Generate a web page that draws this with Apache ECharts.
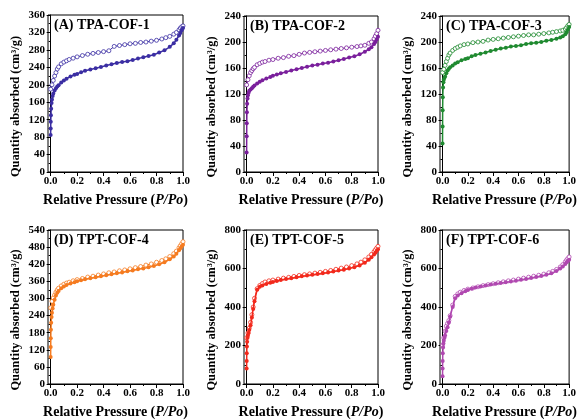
<!DOCTYPE html>
<html><head><meta charset="utf-8">
<script src="https://cdn.jsdelivr.net/npm/echarts@6/dist/echarts.min.js"></script>
<style>html,body{margin:0;padding:0;background:#fff}#c{width:579px;height:420px}</style>
</head><body><div id="c"></div>
<script>
// Pressure grids
const adsP = [0, 0.0005, 0.001, 0.002, 0.004, 0.007, 0.01, 0.015, 0.02, 0.03, 0.04, 0.05, 0.06, 0.08, 0.1, 0.12, 0.15, 0.18, 0.2, 0.23, 0.26, 0.3, 0.34, 0.38, 0.42, 0.46, 0.5, 0.54, 0.58, 0.62, 0.66, 0.7, 0.74, 0.78, 0.82, 0.86, 0.9, 0.93, 0.95, 0.97, 0.98, 0.99, 1.0];
const desP = [0.0, 0.01, 0.02, 0.03, 0.04, 0.05, 0.06, 0.08, 0.1, 0.12, 0.14, 0.17, 0.2, 0.24, 0.28, 0.32, 0.36, 0.4, 0.44, 0.48, 0.52, 0.56, 0.6, 0.64, 0.68, 0.72, 0.76, 0.8, 0.84, 0.87, 0.9, 0.93, 0.95, 0.97, 0.98, 0.99, 1.0];

const adsA = [85,100,115,130,145,158,166,174,180,187,192,196,199,205,210,214,219,223,225,229,232,235,238,241,244,247,250,252,254,257,260,263,266,269,274,279,287,295,303,313,319,325,330];
const desA = [190,200,210,220,228,236,241,248,252,255,258,261,264,267,270,272,274,276,278,288,290,292,294,295,297,298,300,302,305,308,311,316,320,326,330,333,335];
const adsB = [30,55,75,92,105,113,118,122,125,127,129,131,133,136,139,141,144,146,148,150,152,154,156,158,160,162,164,165,167,168,170,172,174,176,178,181,185,189,192,197,200,204,208];
const desB = [134,142,148,153,156,159,161,165,167,169,170,172,173,175,176,178,179,181,183,184,185,186,187,188,189,190,191,192,193,194,195,198,200,205,209,213,218];
const adsC = [44,70,95,115,130,138,142,145,147,152,156,159,161,164,167,169,172,174,175,178,180,182,184,186,188,190,191,193,194,195,197,198,199,200,202,203,205,207,209,212,215,219,223];
const desC = [153,158,164,170,175,180,183,187,190,192,194,196,197,199,200,201,203,204,205,206,207,208,209,210,211,211,212,213,214,215,216,217,218,220,222,225,227];
const adsD = [95,130,160,190,215,235,250,265,278,295,310,320,326,336,342,347,352,357,360,364,367,371,374,378,381,385,388,391,395,398,402,405,409,414,420,427,437,447,457,469,476,482,488];
const desD = [267,290,302,312,322,330,336,344,350,354,357,362,366,370,375,378,382,386,390,393,397,400,404,408,412,417,421,427,433,439,447,457,466,478,485,492,499];
const adsE = [80,120,160,195,220,240,252,265,280,305,345,390,430,490,505,512,520,526,530,535,540,545,550,555,560,564,568,571,575,579,584,589,594,600,607,616,630,645,658,673,682,691,700];
const desE = [240,265,290,320,360,400,445,495,512,522,530,536,540,545,550,554,559,564,568,572,576,580,585,590,596,602,608,615,624,633,645,660,673,688,697,706,715];
const adsF = [40,80,120,160,190,210,225,240,252,275,295,320,350,400,445,460,472,482,488,495,501,507,512,517,521,525,529,533,537,541,546,551,556,561,567,575,587,600,611,624,632,639,645];
const desF = [200,240,275,300,315,330,355,410,455,468,477,486,493,499,505,511,516,521,526,531,536,540,545,550,555,560,565,571,578,585,595,608,620,635,644,652,660];

const titles = ['(A) TPA-COF-1','(B) TPA-COF-2','(C) TPA-COF-3','(D) TPT-COF-4','(E) TPT-COF-5','(F) TPT-COF-6'];
const yMax = [360, 240, 240, 540, 800, 800];
const yStep = [40, 40, 40, 60, 200, 200];
const xMajor = [0, 0.2, 0.4, 0.6, 0.8, 1.0];
const xMinor = [0.1, 0.3, 0.5, 0.7, 0.9];
const colors = ['#3b2ea3','#7a1f9c','#1f8a30','#f57b20','#f2291c','#b048b0'];
const adsSets = [adsA, adsB, adsC, adsD, adsE, adsF];
const desSets = [desA, desB, desC, desD, desE, desF];

const layout = [
  {left:48, top:15, width:135, height:157},
  {left:244, top:16, width:134, height:156},
  {left:440, top:16, width:133, height:156},
  {left:48, top:230, width:135, height:155},
  {left:244, top:230, width:134, height:156},
  {left:440, top:230, width:133, height:156}
];

const FONT = '"Liberation Serif","Times New Roman",serif';
const grid = [], xAxis = [], yAxis = [], series = [], title = [];
const zip = (xs, ys) => xs.map((x, i) => [x, ys[i]]);

layout.forEach((g, i) => {
  grid.push(Object.assign({show:true, borderColor:'#000', borderWidth:1, backgroundColor:'transparent'}, g));
  xAxis.push({
    gridIndex:i, type:'value', min:-0.02, max:1.0,
    axisLine:{show:true, onZero:false, lineStyle:{color:'#000', width:1}},
    axisTick:{show:true, inside:false, length:4, customValues:xMajor, lineStyle:{color:'#000'}},
    axisLabel:{show:true, customValues:xMajor, formatter:v=>v.toFixed(1), color:'#000', fontFamily:FONT, fontWeight:'bold', fontSize:11, margin:4},
    splitLine:{show:false},
    name:'Relative Pressure ({i|P/Po})', nameLocation:'middle', nameGap:21,
    nameTextStyle:{color:'#000', fontFamily:FONT, fontWeight:'bold', fontSize:14,
      rich:{i:{fontStyle:'italic', fontWeight:'bold', fontFamily:FONT, fontSize:14, color:'#000'}}}
  });
  xAxis.push({
    gridIndex:i, type:'value', min:-0.02, max:1.0, position:'bottom',
    axisLine:{show:false},
    axisTick:{show:true, length:2, customValues:xMinor, lineStyle:{color:'#000'}},
    axisLabel:{show:false}, splitLine:{show:false}
  });
  yAxis.push({
    gridIndex:i, type:'value', min:0, max:yMax[i], interval:yStep[i],
    axisLine:{show:true, lineStyle:{color:'#000', width:1}},
    axisTick:{show:true, length:4, lineStyle:{color:'#000'}},
    minorTick:{show:true, splitNumber:2, length:2, lineStyle:{color:'#000'}},
    axisLabel:{color:'#000', fontFamily:FONT, fontWeight:'bold', fontSize:11, margin:3},
    splitLine:{show:false},
    name:'Quantity absorbed (cm³/g)', nameLocation:'middle', nameGap:26,
    nameTextStyle:{color:'#000', fontFamily:FONT, fontWeight:'bold', fontSize:12.5, padding:[0,26,0,0]}
  });
  title.push({text:titles[i], left:g.left+6, top:g.top+3, padding:0,
    textStyle:{color:'#000', fontFamily:FONT, fontWeight:'bold', fontSize:14}});
  series.push({
    type:'line', xAxisIndex:2*i, yAxisIndex:i, data:zip(desP, desSets[i]),
    symbol:'circle', symbolSize:4, showSymbol:true, clip:false,
    lineStyle:{color:colors[i], width:1},
    itemStyle:{color:'#fff', borderColor:colors[i], borderWidth:0.8},
    animation:false, z:2
  });
  series.push({
    type:'line', xAxisIndex:2*i, yAxisIndex:i, data:zip(adsP, adsSets[i]),
    symbol:'circle', symbolSize:4, showSymbol:true, clip:false,
    lineStyle:{color:colors[i], width:1.5},
    itemStyle:{color:colors[i], borderColor:colors[i], borderWidth:0},
    animation:false, z:3
  });
});

const chart = echarts.init(document.getElementById('c'), null, {renderer:'canvas'});
chart.setOption({backgroundColor:'#fff', animation:false, title, grid, xAxis, yAxis, series});
</script></body></html>
